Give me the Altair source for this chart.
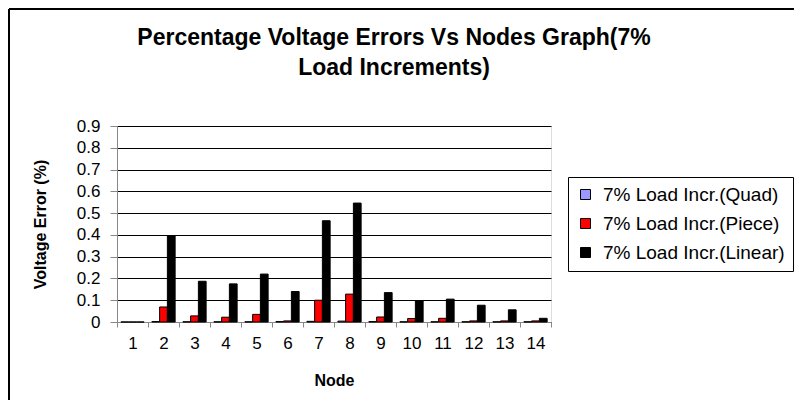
import altair as alt
import pandas as pd

nodes = list(range(1, 15))
quad = [0, 0.002, 0.001, 0.001, 0.001, 0.002, 0.003, 0.004, 0.002, 0.001, 0.001, 0.001, 0.001, 0.001]
piece = [0, 0.069, 0.028, 0.022, 0.035, 0.005, 0.100, 0.128, 0.023, 0.016, 0.017, 0.005, 0.005, 0.005]
linear = [0, 0.397, 0.187, 0.175, 0.220, 0.140, 0.465, 0.546, 0.135, 0.097, 0.105, 0.077, 0.056, 0.017]
series = ["7% Load Incr.(Quad)", "7% Load Incr.(Piece)", "7% Load Incr.(Linear)"]
colors = ["#9999FF", "#FF0000", "#000000"]
y_ticks = [0, 0.1, 0.2, 0.3, 0.4, 0.5, 0.6, 0.7, 0.8, 0.9]

rows = []
for name, vals in zip(series, [quad, piece, linear]):
    for n, v in zip(nodes, vals):
        rows.append({"Node": n, "Series": name, "Value": v})
df = pd.DataFrame(rows)

FONT = "Liberation Sans"

bars = alt.Chart(df).mark_bar(stroke="black", strokeWidth=1).encode(
    x=alt.X(
        "Node:O",
        title="Node",
        scale=alt.Scale(paddingInner=0, paddingOuter=0),
        axis=alt.Axis(
            labelAngle=0, tickBand="extent", tickSize=5, labelPadding=8,
            labelFontSize=17, titleFontSize=16, titleFontWeight="bold",
            titleY=58, titleBaseline="middle", grid=False,
        ),
    ),
    xOffset=alt.XOffset(
        "Series:N", sort=series,
        scale=alt.Scale(paddingOuter=0.5, paddingInner=0),
    ),
    y=alt.Y(
        "Value:Q",
        title="Voltage Error (%)",
        scale=alt.Scale(domain=[0, 0.9], nice=False, zero=True),
        axis=alt.Axis(
            values=y_ticks, format=".1~f", grid=True, gridColor="black",
            gridWidth=1, tickSize=7, labelPadding=10, labelFontSize=17,
            titleFontSize=16, titleFontWeight="bold", titleAngle=270,
            titleX=-77, titleY=98, titleAlign="center", titleBaseline="middle",
        ),
    ),
    color=alt.Color(
        "Series:N", sort=series,
        scale=alt.Scale(domain=series, range=colors),
        legend=alt.Legend(
            title=None, orient="none", legendX=451, legendY=51,
            symbolType="square", symbolSize=100, symbolStrokeColor="black",
            symbolStrokeWidth=1, labelFontSize=19, labelFont=FONT,
            labelColor="black", padding=8, rowPadding=9,
            strokeColor="black", fillColor="white", labelOffset=8,
            labelLimit=400,
        ),
    ),
)

frame_df = pd.DataFrame({"k": [0]})
top_line = alt.Chart(frame_df).mark_rule(color="black", strokeWidth=2).encode(
    x=alt.value(-108), x2=alt.value(677), y=alt.value(-117)
)
left_line = alt.Chart(frame_df).mark_rule(color="black", strokeWidth=2).encode(
    x=alt.value(-108), y=alt.value(-117), y2=alt.value(274)
)

chart = alt.layer(bars, top_line, left_line).properties(
    width=434,
    height=196,
    autosize=alt.AutoSizeParams(type="none"),
    padding={"left": 109, "top": 118, "right": 243, "bottom": 78},
    title=alt.TitleParams(
        ["Percentage Voltage Errors Vs Nodes Graph(7%", "Load Increments)"],
        fontSize=23, font=FONT, fontWeight="bold", anchor="middle",
        dx=60, dy=72, offset=0, lineHeight=30, color="black",
    ),
).configure_view(
    stroke="#808080", strokeWidth=1
).configure_axis(
    labelFont=FONT, titleFont=FONT, labelColor="black", titleColor="black",
    domainColor="black", tickColor="black",
).configure_legend(
    strokeWidth=1.5
).configure(background="white")

chart.save("out.html", embed_options={"renderer": "svg", "actions": False})
